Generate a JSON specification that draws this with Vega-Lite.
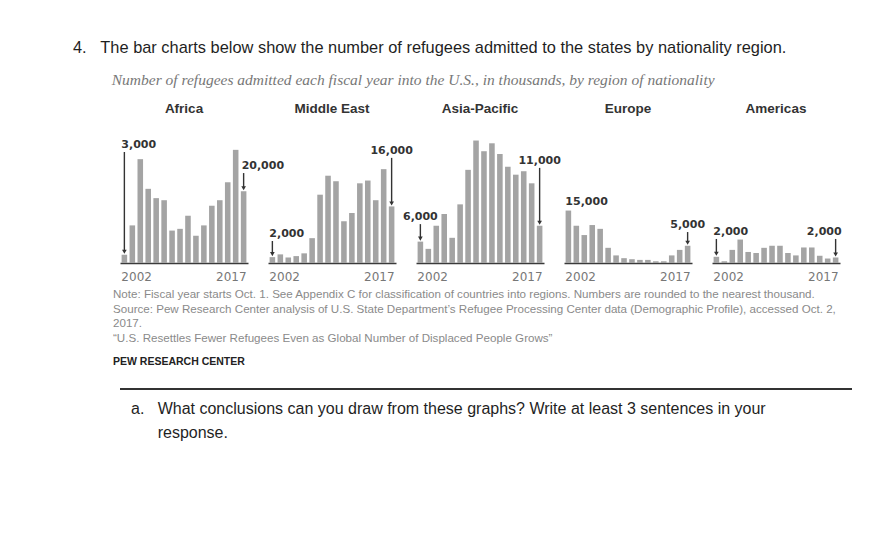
{
  "$schema": "https://vega.github.io/schema/vega-lite/v6.json",
  "background": "white",
  "padding": {"left": 73, "top": 39, "right": 20, "bottom": 10},
  "title": {
    "text": "4.\u00a0\u00a0\u00a0The bar charts below show the number of refugees admitted to the states by nationality region.",
    "subtitle": "\u200b\u00a0\u00a0\u00a0\u00a0\u00a0\u00a0\u00a0\u00a0\u00a0\u00a0Number of refugees admitted each fiscal year into the U.S., in thousands, by region of nationality",
    "anchor": "start",
    "dx": -40,
    "font": "Liberation Sans",
    "fontSize": 16.4,
    "fontWeight": "normal",
    "color": "#1f1f1f",
    "subtitleFont": "Liberation Serif",
    "subtitleFontStyle": "italic",
    "subtitleFontSize": 15.5,
    "subtitleColor": "#777777",
    "subtitlePadding": 17,
    "offset": 13
  },
  "config": {
    "view": {"stroke": null},
    "axis": {"grid": false}
  },
  "spacing": 20,
  "vconcat": [
    {
      "data": {"values": [
        {"region": "Africa", "year": 2002, "value": 2.4, "label": "3,000", "label_at": 34.2},
        {"region": "Africa", "year": 2003, "value": 10.9},
        {"region": "Africa", "year": 2004, "value": 30.1},
        {"region": "Africa", "year": 2005, "value": 21.5},
        {"region": "Africa", "year": 2006, "value": 18.8},
        {"region": "Africa", "year": 2007, "value": 18.2},
        {"region": "Africa", "year": 2008, "value": 9.4},
        {"region": "Africa", "year": 2009, "value": 9.9},
        {"region": "Africa", "year": 2010, "value": 13.7},
        {"region": "Africa", "year": 2011, "value": 7.9},
        {"region": "Africa", "year": 2012, "value": 10.9},
        {"region": "Africa", "year": 2013, "value": 16.6},
        {"region": "Africa", "year": 2014, "value": 18.2},
        {"region": "Africa", "year": 2015, "value": 23.4},
        {"region": "Africa", "year": 2016, "value": 32.8},
        {"region": "Africa", "year": 2017, "value": 20.8, "label": "20,000", "label_at": 28.1},
        {"region": "Middle East", "year": 2002, "value": 1.7, "label": "2,000", "label_at": 8.4},
        {"region": "Middle East", "year": 2003, "value": 2.5},
        {"region": "Middle East", "year": 2004, "value": 1.6},
        {"region": "Middle East", "year": 2005, "value": 2.0},
        {"region": "Middle East", "year": 2006, "value": 2.8},
        {"region": "Middle East", "year": 2007, "value": 7.2},
        {"region": "Middle East", "year": 2008, "value": 19.8},
        {"region": "Middle East", "year": 2009, "value": 25.3},
        {"region": "Middle East", "year": 2010, "value": 23.7},
        {"region": "Middle East", "year": 2011, "value": 12.1},
        {"region": "Middle East", "year": 2012, "value": 14.5},
        {"region": "Middle East", "year": 2013, "value": 23.1},
        {"region": "Middle East", "year": 2014, "value": 23.9},
        {"region": "Middle East", "year": 2015, "value": 18.2},
        {"region": "Middle East", "year": 2016, "value": 27.2},
        {"region": "Middle East", "year": 2017, "value": 16.4, "label": "16,000", "label_at": 32.5},
        {"region": "Asia-Pacific", "year": 2002, "value": 6.2, "label": "6,000", "label_at": 13.3},
        {"region": "Asia-Pacific", "year": 2003, "value": 4.1},
        {"region": "Asia-Pacific", "year": 2004, "value": 10.8},
        {"region": "Asia-Pacific", "year": 2005, "value": 14.2},
        {"region": "Asia-Pacific", "year": 2006, "value": 7.3},
        {"region": "Asia-Pacific", "year": 2007, "value": 17.0},
        {"region": "Asia-Pacific", "year": 2008, "value": 27.0},
        {"region": "Asia-Pacific", "year": 2009, "value": 35.5},
        {"region": "Asia-Pacific", "year": 2010, "value": 32.4},
        {"region": "Asia-Pacific", "year": 2011, "value": 34.7},
        {"region": "Asia-Pacific", "year": 2012, "value": 31.6},
        {"region": "Asia-Pacific", "year": 2013, "value": 27.9},
        {"region": "Asia-Pacific", "year": 2014, "value": 25.6},
        {"region": "Asia-Pacific", "year": 2015, "value": 26.6},
        {"region": "Asia-Pacific", "year": 2016, "value": 23.1},
        {"region": "Asia-Pacific", "year": 2017, "value": 10.8, "label": "11,000", "label_at": 29.6},
        {"region": "Europe", "year": 2002, "value": 15.2, "label": "15,000", "label_at": 17.7},
        {"region": "Europe", "year": 2003, "value": 10.8},
        {"region": "Europe", "year": 2004, "value": 8.1},
        {"region": "Europe", "year": 2005, "value": 11.0},
        {"region": "Europe", "year": 2006, "value": 9.9},
        {"region": "Europe", "year": 2007, "value": 4.4},
        {"region": "Europe", "year": 2008, "value": 2.2},
        {"region": "Europe", "year": 2009, "value": 1.4},
        {"region": "Europe", "year": 2010, "value": 1.1},
        {"region": "Europe", "year": 2011, "value": 0.9},
        {"region": "Europe", "year": 2012, "value": 0.9},
        {"region": "Europe", "year": 2013, "value": 0.5},
        {"region": "Europe", "year": 2014, "value": 0.5},
        {"region": "Europe", "year": 2015, "value": 2.2},
        {"region": "Europe", "year": 2016, "value": 3.8},
        {"region": "Europe", "year": 2017, "value": 5.0, "label": "5,000", "label_at": 11.0},
        {"region": "Americas", "year": 2002, "value": 1.8, "label": "2,000", "label_at": 9.0},
        {"region": "Americas", "year": 2003, "value": 0.5},
        {"region": "Americas", "year": 2004, "value": 3.8},
        {"region": "Americas", "year": 2005, "value": 6.8},
        {"region": "Americas", "year": 2006, "value": 3.2},
        {"region": "Americas", "year": 2007, "value": 2.9},
        {"region": "Americas", "year": 2008, "value": 4.4},
        {"region": "Americas", "year": 2009, "value": 5.0},
        {"region": "Americas", "year": 2010, "value": 5.0},
        {"region": "Americas", "year": 2011, "value": 2.9},
        {"region": "Americas", "year": 2012, "value": 2.2},
        {"region": "Americas", "year": 2013, "value": 4.5},
        {"region": "Americas", "year": 2014, "value": 4.5},
        {"region": "Americas", "year": 2015, "value": 2.1},
        {"region": "Americas", "year": 2016, "value": 1.3},
        {"region": "Americas", "year": 2017, "value": 1.6, "label": "2,000", "label_at": 9.0}
      ]},
      "title": {
        "text": [
          "Note: Fiscal year starts Oct. 1. See Appendix C for classification of countries into regions. Numbers are rounded to the nearest thousand.",
          "Source: Pew Research Center analysis of U.S. State Department\u2019s Refugee Processing Center data (Demographic Profile), accessed Oct. 2,",
          "2017.",
          "\u201cU.S. Resettles Fewer Refugees Even as Global Number of Displaced People Grows\u201d"
        ],
        "subtitle": "PEW RESEARCH CENTER",
        "orient": "bottom",
        "anchor": "start",
        "dx": -7,
        "offset": 7,
        "font": "Liberation Sans",
        "fontSize": 11.6,
        "fontWeight": "normal",
        "color": "#8a8a8a",
        "lineHeight": 14.6,
        "subtitleFont": "Liberation Sans",
        "subtitleFontSize": 10.5,
        "subtitleFontWeight": "bold",
        "subtitleColor": "#222222",
        "subtitlePadding": 13
      },
      "bounds": "flush",
      "facet": {
        "column": {
          "field": "region",
          "type": "nominal",
          "sort": ["Africa", "Middle East", "Asia-Pacific", "Europe", "Americas"],
          "header": {
            "title": null,
            "labelFont": "Liberation Sans",
            "labelFontWeight": "bold",
            "labelFontSize": 13.5,
            "labelColor": "#333333",
            "labelPadding": 10
          }
        }
      },
      "spacing": 20,
      "spec": {
        "width": 128,
        "height": 138,
        "layer": [
          {
            "mark": {"type": "bar", "color": "#a4a4a4"},
            "encoding": {
              "x": {
                "field": "year",
                "type": "ordinal",
                "scale": {"paddingInner": 0.3, "paddingOuter": 0.2},
                "axis": {
                  "values": [2002, 2017],
                  "title": null,
                  "ticks": false,
                  "domainColor": "#3a3a3a",
                  "domainWidth": 1.5,
                  "labelAngle": 0,
                  "labelFont": "DejaVu Sans",
                  "labelFontSize": 12,
                  "labelColor": "#777777",
                  "labelPadding": 8,
                  "labelAlign": {"condition": {"test": "datum.value == 2002", "value": "left"}, "value": "right"},
                  "labelOffset": {"condition": {"test": "datum.value == 2002", "value": -3}, "value": 3}
                }
              },
              "y": {
                "field": "value",
                "type": "quantitative",
                "scale": {"domain": [0, 40]},
                "axis": null
              }
            }
          },
          {
            "transform": [{"filter": "isValid(datum.label) && datum.label_at - datum.value > 4"}],
            "mark": {"type": "rule", "color": "#333333", "strokeWidth": 1.4, "yOffset": 7, "y2Offset": -4},
            "encoding": {
              "x": {"field": "year", "type": "ordinal"},
              "y": {"field": "label_at", "type": "quantitative", "axis": null},
              "y2": {"field": "value"}
            }
          },
          {
            "transform": [{"filter": "isValid(datum.label) && datum.label_at - datum.value > 4"}],
            "mark": {"type": "point", "shape": "triangle-down", "filled": true, "color": "#333333", "size": 22, "opacity": 1, "yOffset": -3},
            "encoding": {
              "x": {"field": "year", "type": "ordinal"},
              "y": {"field": "value", "type": "quantitative", "axis": null}
            }
          },
          {
            "transform": [{"filter": "isValid(datum.label) && datum.year == 2002 && datum.region != 'Asia-Pacific'"}],
            "mark": {"type": "text", "align": "left", "dx": -3, "baseline": "middle", "font": "DejaVu Sans", "fontWeight": "bold", "fontSize": 11, "color": "#333333"},
            "encoding": {
              "x": {"field": "year", "type": "ordinal"},
              "y": {"field": "label_at", "type": "quantitative", "axis": null},
              "text": {"field": "label"}
            }
          },
          {
            "transform": [{"filter": "isValid(datum.label) && ((datum.year == 2002 && datum.region == 'Asia-Pacific') || (datum.year == 2017 && (datum.region == 'Middle East' || datum.region == 'Asia-Pacific' || datum.region == 'Europe')))"}],
            "mark": {"type": "text", "align": "center", "baseline": "middle", "font": "DejaVu Sans", "fontWeight": "bold", "fontSize": 11, "color": "#333333"},
            "encoding": {
              "x": {"field": "year", "type": "ordinal"},
              "y": {"field": "label_at", "type": "quantitative", "axis": null},
              "text": {"field": "label"}
            }
          },
          {
            "transform": [{"filter": "isValid(datum.label) && datum.year == 2017 && datum.region == 'Africa'"}],
            "mark": {"type": "text", "align": "left", "dx": -2, "baseline": "middle", "font": "DejaVu Sans", "fontWeight": "bold", "fontSize": 11, "color": "#333333"},
            "encoding": {
              "x": {"field": "year", "type": "ordinal"},
              "y": {"field": "label_at", "type": "quantitative", "axis": null},
              "text": {"field": "label"}
            }
          },
          {
            "transform": [{"filter": "isValid(datum.label) && datum.year == 2017 && datum.region == 'Americas'"}],
            "mark": {"type": "text", "align": "right", "dx": 6, "baseline": "middle", "font": "DejaVu Sans", "fontWeight": "bold", "fontSize": 11, "color": "#333333"},
            "encoding": {
              "x": {"field": "year", "type": "ordinal"},
              "y": {"field": "label_at", "type": "quantitative", "axis": null},
              "text": {"field": "label"}
            }
          }
        ]
      }
    },
    {
      "width": 732,
      "height": 1,
      "data": {"values": [{"part": "divider"}]},
      "mark": {"type": "rule", "color": "#333333", "strokeWidth": 2},
      "encoding": {
        "y": {"datum": 1, "type": "quantitative", "scale": {"domain": [0, 1]}, "axis": null}
      },
      "title": {
        "text": [
          "a.\u00a0\u00a0\u00a0What conclusions can you draw from these graphs? Write at least 3 sentences in your",
          "\u200b\u00a0\u00a0\u00a0\u00a0\u00a0\u00a0response."
        ],
        "orient": "bottom",
        "anchor": "start",
        "dx": 12,
        "offset": 11,
        "font": "Liberation Sans",
        "fontSize": 16,
        "fontWeight": "normal",
        "color": "#1f1f1f",
        "lineHeight": 24
      }
    }
  ]
}
